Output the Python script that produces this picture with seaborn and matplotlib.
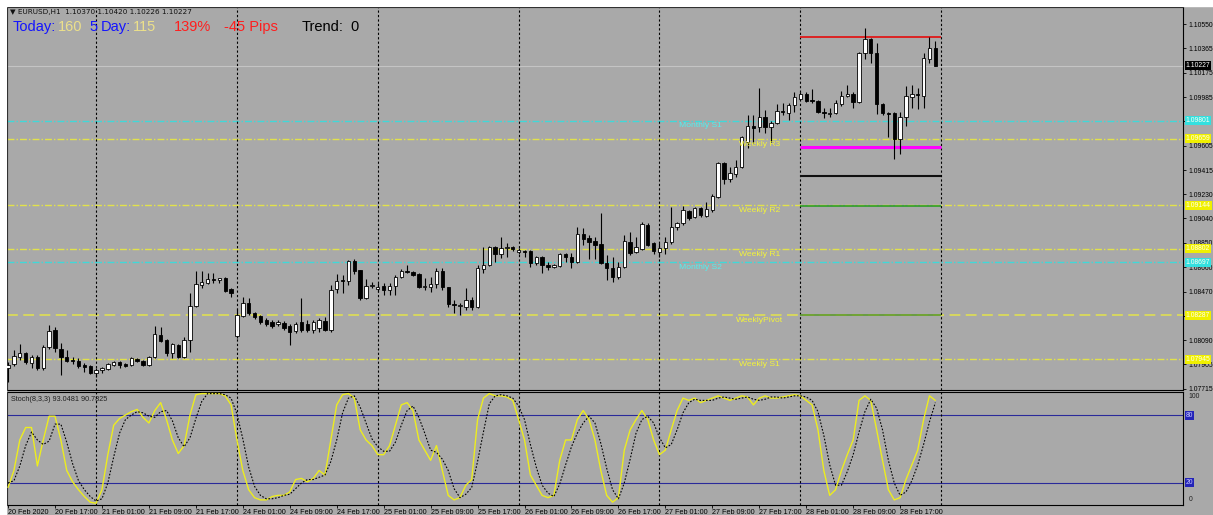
import matplotlib
matplotlib.use('Agg')
import matplotlib.pyplot as plt
import matplotlib.transforms as mtransforms
from matplotlib.patches import Rectangle
import numpy as np
import pandas as pd
import seaborn as sns

# ---------------- data (EURUSD H1, 20 Feb 09:00 .. 28 Feb 22:00) ----------------
opens = [1.07875,1.07906,1.07960,1.07992,1.07914,1.07960,1.07875,1.08038,1.08171,1.08023,
         1.07960,1.07937,1.07929,1.07898,1.07890,1.07836,1.07859,1.07867,1.07898,1.07921,
         1.07906,1.07898,1.07945,1.07929,1.07898,1.07960,1.08132,1.08093,1.07992,1.08054,
         1.07960,1.08093,1.08358,1.08521,1.08537,1.08568,1.08560,1.08576,1.08490,1.08124,
         1.08280,1.08382,1.08304,1.08280,1.08249,1.08233,1.08218,1.08226,1.08202,1.08163,
         1.08233,1.08218,1.08171,1.08187,1.08241,1.08171,1.08490,1.08560,1.08552,1.08708,
         1.08638,1.08421,1.08513,1.08490,1.08513,1.08483,1.08513,1.08583,1.08630,1.08622,
         1.08607,1.08505,1.08505,1.08529,1.08630,1.08505,1.08374,1.08358,1.08350,1.08405,
         1.08350,1.08646,1.08677,1.08817,1.08763,1.08810,1.08817,1.08778,1.08786,1.08786,
         1.08693,1.08739,1.08677,1.08661,1.08669,1.08763,1.08739,1.08700,1.08919,1.08888,
         1.08864,1.08841,1.08693,1.08654,1.08583,1.08661,1.08856,1.08778,1.08802,1.08989,
         1.08849,1.08778,1.08810,1.08856,1.08973,1.09005,1.09098,1.09051,1.09121,1.09059,
         1.09106,1.09206,1.09472,1.09347,1.09386,1.09440,1.09635,1.09759,1.09751,1.09829,
         1.09751,1.09783,1.09876,1.09861,1.09923,1.09970,1.10009,1.09962,1.09954,1.09868,
         1.09853,1.09861,1.09931,1.09993,1.10009,1.09946,1.10329,1.10437,1.10329,1.09931,
         1.09861,1.09861,1.09659,1.09829,1.09985,1.10009,1.09993,1.10282,1.10370]
highs = [1.07921,1.08015,1.08062,1.07999,1.07976,1.07976,1.08054,1.08210,1.08194,1.08070,
         1.08015,1.07960,1.07953,1.07914,1.07898,1.07875,1.07882,1.07914,1.07929,1.07929,
         1.07914,1.07960,1.07953,1.07937,1.07968,1.08202,1.08194,1.08101,1.08070,1.08062,
         1.08116,1.08460,1.08630,1.08630,1.08615,1.08615,1.08576,1.08583,1.08498,1.08335,
         1.08428,1.08421,1.08311,1.08288,1.08265,1.08249,1.08249,1.08241,1.08218,1.08233,
         1.08421,1.08249,1.08249,1.08265,1.08272,1.08521,1.08607,1.08599,1.08716,1.08724,
         1.08638,1.08568,1.08544,1.08537,1.08537,1.08537,1.08599,1.08646,1.08677,1.08630,
         1.08615,1.08576,1.08583,1.08654,1.08654,1.08505,1.08405,1.08382,1.08498,1.08428,
         1.08677,1.08817,1.08825,1.08825,1.08895,1.08849,1.08825,1.08810,1.08794,1.08794,
         1.08747,1.08747,1.08700,1.08685,1.08771,1.08771,1.08771,1.08973,1.08966,1.08911,
         1.08895,1.09083,1.08755,1.08739,1.08700,1.08911,1.08934,1.08895,1.09012,1.09005,
         1.08856,1.08849,1.08895,1.09128,1.09012,1.09136,1.09106,1.09128,1.09128,1.09167,
         1.09230,1.09479,1.09479,1.09440,1.09495,1.09682,1.09845,1.09845,1.10056,1.09884,
         1.09798,1.09931,1.09939,1.09939,1.10024,1.10024,1.10024,1.10048,1.09962,1.09900,
         1.09900,1.09962,1.10032,1.10079,1.10024,1.10336,1.10523,1.10445,1.10407,1.09939,
         1.09868,1.09868,1.09868,1.10071,1.10079,1.10056,1.10329,1.10452,1.10420]
lows = [1.07766,1.07890,1.07937,1.07906,1.07875,1.07859,1.07859,1.08023,1.07999,1.07820,
        1.07921,1.07906,1.07875,1.07843,1.07828,1.07804,1.07836,1.07859,1.07890,1.07875,
        1.07882,1.07890,1.07921,1.07890,1.07890,1.07953,1.08077,1.07968,1.07953,1.07953,
        1.07953,1.07999,1.08350,1.08498,1.08529,1.08537,1.08537,1.08467,1.08428,1.08109,
        1.08272,1.08288,1.08257,1.08218,1.08202,1.08187,1.08202,1.08171,1.08054,1.08148,
        1.08155,1.08155,1.08148,1.08155,1.08163,1.08155,1.08460,1.08460,1.08521,1.08607,
        1.08405,1.08413,1.08498,1.08467,1.08444,1.08444,1.08444,1.08576,1.08615,1.08591,
        1.08498,1.08483,1.08467,1.08498,1.08483,1.08350,1.08304,1.08288,1.08327,1.08327,
        1.08343,1.08615,1.08669,1.08700,1.08732,1.08739,1.08786,1.08763,1.08739,1.08661,
        1.08677,1.08615,1.08638,1.08654,1.08661,1.08700,1.08654,1.08693,1.08833,1.08724,
        1.08724,1.08685,1.08560,1.08544,1.08568,1.08654,1.08755,1.08771,1.08794,1.08825,
        1.08763,1.08739,1.08763,1.08841,1.08950,1.08989,1.09028,1.09044,1.09051,1.09051,
        1.09090,1.09199,1.09308,1.09323,1.09362,1.09433,1.09589,1.09628,1.09713,1.09706,
        1.09635,1.09775,1.09845,1.09806,1.09868,1.09962,1.09946,1.09939,1.09861,1.09822,
        1.09829,1.09853,1.09915,1.09985,1.09900,1.09939,1.10282,1.10251,1.09853,1.09845,
        1.09674,1.09503,1.09542,1.09759,1.09900,1.09892,1.09900,1.10251,1.10226]
closes = [1.07898,1.07968,1.07992,1.07921,1.07960,1.07875,1.08038,1.08163,1.08031,1.07960,
          1.07929,1.07929,1.07890,1.07882,1.07836,1.07859,1.07875,1.07906,1.07921,1.07898,
          1.07890,1.07953,1.07929,1.07898,1.07960,1.08140,1.08085,1.07992,1.08062,1.07960,
          1.08093,1.08358,1.08529,1.08544,1.08568,1.08560,1.08576,1.08475,1.08460,1.08288,
          1.08382,1.08304,1.08272,1.08233,1.08218,1.08202,1.08233,1.08187,1.08155,1.08218,
          1.08171,1.08171,1.08233,1.08249,1.08171,1.08483,1.08552,1.08552,1.08708,1.08630,
          1.08421,1.08513,1.08521,1.08505,1.08483,1.08513,1.08583,1.08630,1.08622,1.08599,
          1.08505,1.08513,1.08529,1.08630,1.08505,1.08374,1.08366,1.08366,1.08405,1.08350,
          1.08654,1.08677,1.08817,1.08763,1.08810,1.08817,1.08802,1.08794,1.08778,1.08693,
          1.08739,1.08677,1.08661,1.08677,1.08763,1.08739,1.08700,1.08919,1.08880,1.08856,
          1.08833,1.08693,1.08654,1.08583,1.08661,1.08864,1.08771,1.08817,1.08997,1.08833,
          1.08786,1.08810,1.08856,1.08973,1.09005,1.09106,1.09044,1.09121,1.09067,1.09113,
          1.09214,1.09472,1.09347,1.09394,1.09440,1.09674,1.09759,1.09744,1.09829,1.09751,
          1.09783,1.09876,1.09868,1.09923,1.09985,1.10009,1.09954,1.09954,1.09868,1.09861,
          1.09861,1.09939,1.09993,1.10009,1.09946,1.10329,1.10437,1.10329,1.09931,1.09861,
          1.09853,1.09659,1.09829,1.09993,1.10009,1.10001,1.10290,1.10368,1.10227]

stoch_main = [16,31,58,69,69,35,58,79,79,58,31,21,14,8,3,2,14,45,71,77,
              80,83,85,78,73,84,91,76,58,46,53,80,98,99,99,99,99,97,89,58,
              31,14,7,5,5,8,9,9,12,23,24,21,24,31,27,58,89,98,99,95,
              67,58,53,45,45,53,71,89,91,84,58,49,40,53,31,9,5,7,18,23,
              76,95,99,97,97,96,93,76,58,27,18,9,7,9,40,58,58,76,84,76,
              58,31,9,3,7,49,67,76,84,76,58,45,49,67,84,95,93,95,91,93,
              95,97,95,93,95,97,96,89,95,97,95,95,96,97,98,97,93,89,67,31,
              9,14,31,45,58,93,97,93,67,40,14,5,7,23,36,49,76,97,93]
stoch_signal = [20,22,35,53,65,58,54,57,72,72,56,37,22,14,8,4,6,20,43,64,
                76,80,83,82,79,78,83,84,75,60,52,60,77,92,99,99,99,98,95,81,
                59,34,17,9,6,6,7,9,10,15,20,23,23,25,27,39,58,82,95,97,
                87,73,59,52,48,48,56,71,84,88,78,64,49,47,41,31,15,7,10,16,
                39,65,90,97,98,97,95,88,76,54,34,18,11,8,19,36,52,64,73,79,
                73,55,33,14,6,20,41,64,76,79,73,60,51,54,67,82,91,94,93,93,
                93,95,96,95,94,95,96,94,93,94,96,96,95,96,97,97,96,93,83,62,
                36,18,18,30,45,65,83,94,86,67,40,20,9,12,22,36,54,74,91]

price_ticks = [1.10550,1.10365,1.10175,1.09985,1.09795,1.09605,1.09415,1.09230,
               1.09040,1.08850,1.08660,1.08470,1.08280,1.08090,1.07905,1.07715]
# labels fully hidden behind level boxes in the reference
hidden_ticks = [1.09795, 1.08280]

time_labels = ["20 Feb 2020","20 Feb 17:00","21 Feb 01:00","21 Feb 09:00","21 Feb 17:00",
               "24 Feb 01:00","24 Feb 09:00","24 Feb 17:00","25 Feb 01:00","25 Feb 09:00",
               "25 Feb 17:00","26 Feb 01:00","26 Feb 09:00","26 Feb 17:00","27 Feb 01:00",
               "27 Feb 09:00","27 Feb 17:00","28 Feb 01:00","28 Feb 09:00","28 Feb 17:00"]
time_label_bars = [0,8,16,24,32,40,48,56,64,72,80,88,96,104,112,120,128,136,144,152]
day_start_bars = [15,39,63,87,111,135,159]

level_names  = ["Monthly S1","Weekly R3","Weekly R2","Weekly R1","Monthly S2","WeeklyPivot","Weekly S1"]
level_prices = [1.09801,1.09659,1.09144,1.08802,1.08697,1.08287,1.07945]
level_kinds  = ["monthly","weekly","weekly","weekly","monthly","pivot","weekly"]
level_label_bar = [118,128,128,128,118,128,128]

day_levels = [1.10455,1.09599,1.09373,1.09136,1.08288]
day_colors = ["#E01818","#FF00FF","#101010","#1F9A1F","#5E9A2E"]
day_widths = [1.3,2.2,1.5,1.1,1.2]
current_price = 1.10227

# ---------------- figure ----------------
BG = "#A9A9A9"
CYAN_LINE, CYAN_TEXT, CYAN_BOX = "#40D8D8", "#50F0F0", "#33E0E0"
YEL_LINE, YEL_TEXT, YEL_BOX = "#E2E24A", "#F4F438", "#F0F000"
sns.set_theme(style="white")
plt.rcParams['font.family'] = ['Liberation Sans', 'DejaVu Sans']

W, H = 1213, 515
fig = plt.figure(figsize=(W/100, H/100), dpi=100, facecolor=BG)
fig.patches.append(Rectangle((0, 1-6/H), 1, 6/H, transform=fig.transFigure, color="white", zorder=0))
fig.patches.append(Rectangle((0, 0), 6/W, 1, transform=fig.transFigure, color="white", zorder=0))

ax = fig.add_axes([7/W, 1-390/H, (1183-7)/W, (390-7)/H], facecolor=BG)
ax2 = fig.add_axes([7/W, 1-505/H, (1183-7)/W, (505-392)/H], facecolor=BG)

n = len(closes)
idx = np.arange(n)
df = pd.DataFrame({"bar": idx, "open": opens, "high": highs, "low": lows, "close": closes,
                   "k": stoch_main, "d": stoch_signal})

x_left, x_right = -0.18, 200.2
for a in (ax, ax2):
    a.set_xlim(x_left, x_right)
    for s in a.spines.values():
        s.set_color("black"); s.set_linewidth(0.8)
    a.grid(False)
ax.set_ylim(1.07704, 1.10686)
ax2.set_ylim(0.5, 100.4)

# level lines
for name, p, kind, lb in zip(level_names, level_prices, level_kinds, level_label_bar):
    if kind == "pivot":
        ls, lw, c, tc = (0, (6, 3)), 1.3, "#DADA5A", YEL_TEXT
    elif kind == "monthly":
        ls, lw, c, tc = (0, (5, 1.5, 1, 1.5)), 1.0, CYAN_LINE, CYAN_TEXT
    else:
        ls, lw, c, tc = (0, (5, 1.5, 1, 1.5)), 1.0, YEL_LINE, YEL_TEXT
    ax.axhline(p, color=c, lw=lw, ls=ls, zorder=1)
    ax.annotate(name, xy=(lb, p), xytext=(0, -1.2), textcoords="offset points",
                ha="center", va="top", fontsize=6.1, color=tc, zorder=6)

ax.axhline(current_price, color="#C4C4C4", lw=0.8, zorder=1)

# day segment levels (28 Feb)
for p, c, w in zip(day_levels, day_colors, day_widths):
    ax.hlines(p, day_start_bars[-2], day_start_bars[-1], color=c, lw=w, zorder=2)

# day separators
for a in (ax, ax2):
    for b in day_start_bars:
        a.axvline(b, color="black", lw=0.8, ls=(0, (2, 2)), zorder=1.5)

# candles
bull = df["close"] >= df["open"]
ax.vlines(df["bar"], df["low"], df["high"], color="black", lw=0.8, zorder=3)
body_lo = np.minimum(df["open"], df["close"])
body_h = np.maximum(np.abs(df["close"] - df["open"]), 0.000015)
ax.bar(df["bar"][bull], body_h[bull], bottom=body_lo[bull], width=0.58,
       color="white", edgecolor="black", linewidth=0.6, zorder=4)
ax.bar(df["bar"][~bull], body_h[~bull], bottom=body_lo[~bull], width=0.58,
       color="black", edgecolor="black", linewidth=0.6, zorder=4)

# price axis
FS = 4.9
ax.yaxis.tick_right()
ax.set_yticks(price_ticks)
ax.set_yticklabels(["" if t in hidden_ticks else f"{t:.5f}" for t in price_ticks])
ax.tick_params(axis="y", which="both", right=True, length=2.5, width=0.6, pad=1.3,
               labelsize=FS, colors="black")
ax.tick_params(axis="x", bottom=False, labelbottom=False)

trans = mtransforms.blended_transform_factory(ax.transAxes, ax.transData)
box_specs = [(current_price, "black", "white")]
for p, kind in zip(level_prices, level_kinds):
    box_specs.append((p, CYAN_BOX if kind == "monthly" else YEL_BOX, "#FFFFF0"))
for p, fc, tc in box_specs:
    ax.text(1.0022, p, f"{p:.5f}", transform=trans, ha="left", va="center", fontsize=FS,
            color=tc, zorder=10, clip_on=False,
            bbox=dict(boxstyle="square,pad=0.15", fc=fc, ec="none"))

# stochastic pane
ax2.axhline(80, color="#2A2A9A", lw=0.8, zorder=1)
ax2.axhline(20, color="#2A2A9A", lw=0.8, zorder=1)
sns.lineplot(data=df, x="bar", y="k", ax=ax2, color="#EDED1E", lw=1.0, zorder=3)
sns.lineplot(data=df, x="bar", y="d", ax=ax2, color="black", lw=0.8, ls=(0, (1.5, 1.5)), zorder=4)
ax2.set_xlabel(""); ax2.set_ylabel("")
ax2.set_yticks([])
trans2 = mtransforms.blended_transform_factory(ax2.transAxes, ax2.transData)
ax2.text(1.005, 96, "100", transform=trans2, ha="left", va="center", fontsize=FS, color="#202020", clip_on=False)
ax2.text(1.005, 5, "0", transform=trans2, ha="left", va="center", fontsize=FS, color="#202020", clip_on=False)
for v in (80, 20):
    ax2.text(1.0022, v, f"{v}", transform=trans2, ha="left", va="center", fontsize=FS,
             color="#C8C8FF", clip_on=False,
             bbox=dict(boxstyle="square,pad=0.15", fc="#2424B8", ec="none"))
ax2.text(0.003, 0.93, f"Stoch(8,3,3) {93.0481:.4f} {90.7825:.4f}", transform=ax2.transAxes,
         ha="left", va="center", fontsize=5.2, color="#202020")

ax2.set_xticks(time_label_bars)
ax2.set_xticklabels(time_labels, ha="left")
ax2.tick_params(axis="x", bottom=True, length=2, width=0.6, pad=0.6, labelsize=5.2, colors="black")

# header texts
fig.text(10/W, 1-12/H, "▼ EURUSD,H1  1.10370 1.10420 1.10226 1.10227", fontsize=5.2,
         color="#101010", va="center", ha="left", family=['DejaVu Sans'])
head = [(13, "Today:", "#1414FF"), (58, "160", "#ECE08A"), (89, "5", "#1414FF"),
        (101, "Day:", "#1414FF"), (133, "115", "#ECE08A"), (174, "139%", "#FF1E1E"),
        (224, "-45 Pips", "#FF1E1E"), (302, "Trend:", "#000000"), (350, "0", "#000000")]
for px, t, c in head:
    fig.text(px/W, 1-27/H, t, fontsize=10.5, color=c, va="center", ha="left")

fig.savefig("out.png", dpi=100, facecolor=BG)
